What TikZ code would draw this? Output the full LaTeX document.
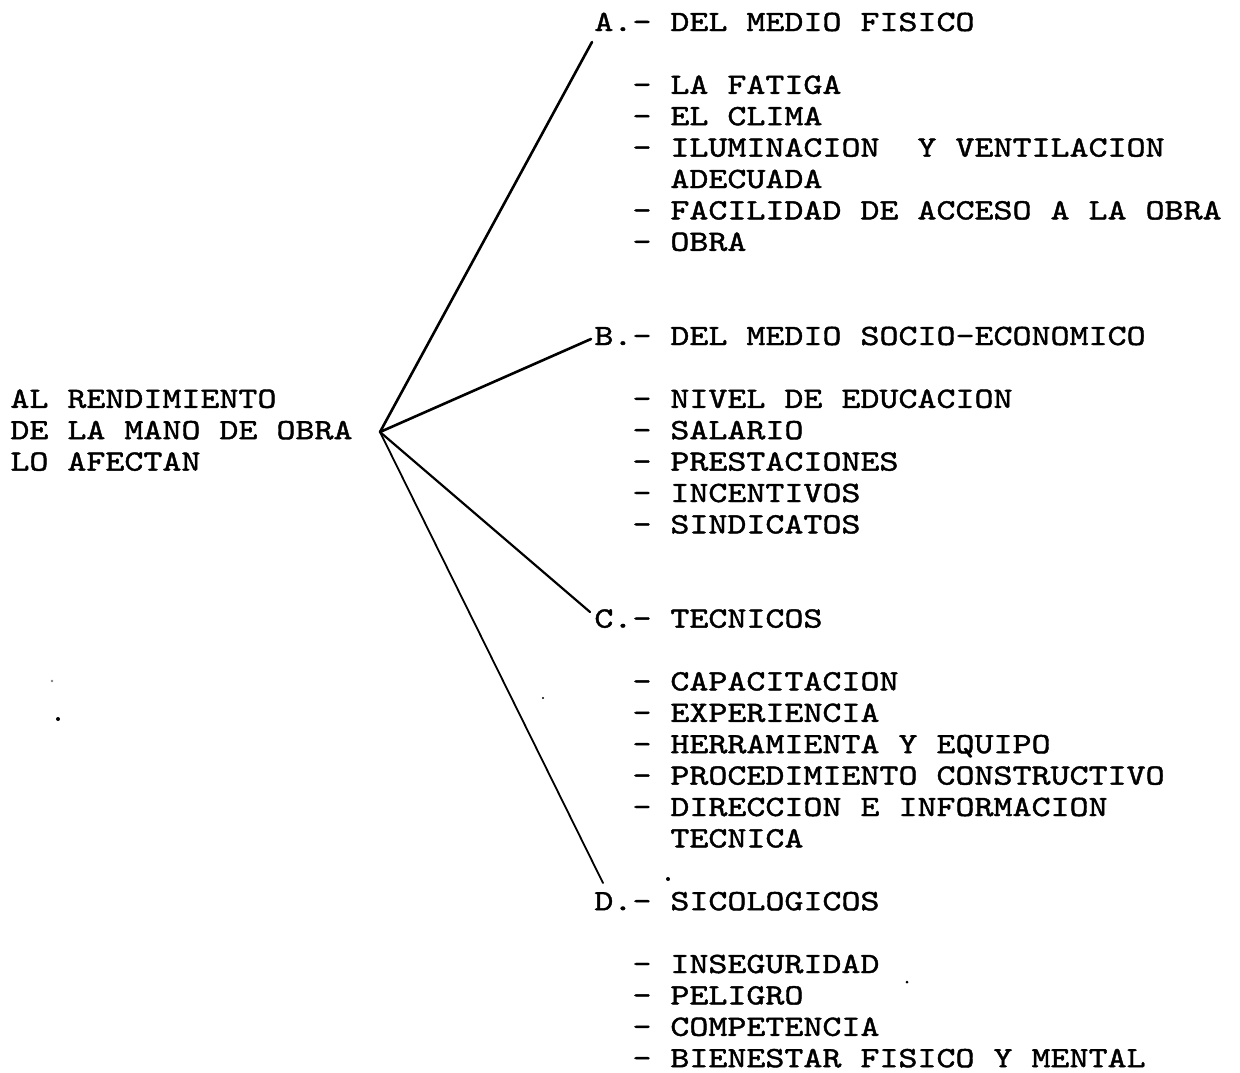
\documentclass[tikz,border=0pt]{standalone}
\usepackage{fontspec}
\newfontfamily\twfam{lmmono10-regular.otf}[FakeStretch=1.229,FakeBold=1.4]
\newcommand\twfont{\twfam\fontsize{14.73}{15.7}\selectfont}
\begin{document}
\begin{tikzpicture}[x=0.5pt,y=-0.5pt,
  txt/.style={anchor=base west, inner sep=0pt, font=\twfont},
  link/.style={line width=1.2pt, line cap=round, line join=round},
  speck/.style={fill=black, draw=none}]
\useasboundingbox (0,0) rectangle (1240,1072);
% left statement
\node[txt] (m1) at (10,{31+31.4*12}) {AL RENDIMIENTO};
\node[txt] (m2) at (10,{31+31.4*13}) {DE LA MANO DE OBRA};
\node[txt] (m3) at (10,{31+31.4*14}) {LO AFECTAN};
\coordinate (hub) at (380,432);
% A
\node[txt] (A) at (594,{31+31.4*0}) {A.- DEL MEDIO FISICO};
\node[txt] (A1) at (632,{31+31.4*2}) {- LA FATIGA};
\node[txt] (A2) at (632,{31+31.4*3}) {- EL CLIMA};
\node[txt] (A3) at (632,{31+31.4*4}) {- ILUMINACION \ Y VENTILACION};
\node[txt] (A3b) at (670,{31+31.4*5}) {ADECUADA};
\node[txt] (A4) at (632,{31+31.4*6}) {- FACILIDAD DE ACCESO A LA OBRA};
\node[txt] (A5) at (632,{31+31.4*7}) {- OBRA};
% B
\node[txt] (B) at (594,{31+31.4*10}) {B.- DEL MEDIO SOCIO-ECONOMICO};
\node[txt] (B1) at (632,{31+31.4*12}) {- NIVEL DE EDUCACION};
\node[txt] (B2) at (632,{31+31.4*13}) {- SALARIO};
\node[txt] (B3) at (632,{31+31.4*14}) {- PRESTACIONES};
\node[txt] (B4) at (632,{31+31.4*15}) {- INCENTIVOS};
\node[txt] (B5) at (632,{31+31.4*16}) {- SINDICATOS};
% C
\node[txt] (C) at (594,{31+31.4*19}) {C.- TECNICOS};
\node[txt] (C1) at (632,{31+31.4*21}) {- CAPACITACION};
\node[txt] (C2) at (632,{31+31.4*22}) {- EXPERIENCIA};
\node[txt] (C3) at (632,{31+31.4*23}) {- HERRAMIENTA Y EQUIPO};
\node[txt] (C4) at (632,{31+31.4*24}) {- PROCEDIMIENTO CONSTRUCTIVO};
\node[txt] (C5) at (632,{31+31.4*25}) {- DIRECCION E INFORMACION};
\node[txt] (C5b) at (670,{31+31.4*26}) {TECNICA};
% D
\node[txt] (D) at (594,{31+31.4*28}) {D.- SICOLOGICOS};
\node[txt] (D1) at (632,{31+31.4*30}) {- INSEGURIDAD};
\node[txt] (D2) at (632,{31+31.4*31}) {- PELIGRO};
\node[txt] (D3) at (632,{31+31.4*32}) {- COMPETENCIA};
\node[txt] (D4) at (632,{31+31.4*33}) {- BIENESTAR FISICO Y MENTAL};
% connector ends
\coordinate (aEnd) at (592,42);
\coordinate (bEnd) at (591,339);
\coordinate (cEnd) at (590,612);
\coordinate (dEnd) at (603,883);
\draw[link, line width=1.3pt] (hub) -- (aEnd);
\draw[link, line width=1.3pt] (hub) -- (bEnd);
\draw[link, line width=1.1pt] (hub) -- (cEnd);
\draw[link, line width=0.9pt] (hub) -- (dEnd);
% specks of the scan
\fill[speck, black!50] (52,681) circle (1.3);
\fill[speck] (58,719) circle (2);
\fill[speck] (543,698) circle (1.2);
\fill[speck] (668,879) circle (2);
\fill[speck] (907,982) circle (1.5);
\end{tikzpicture}
\end{document}
